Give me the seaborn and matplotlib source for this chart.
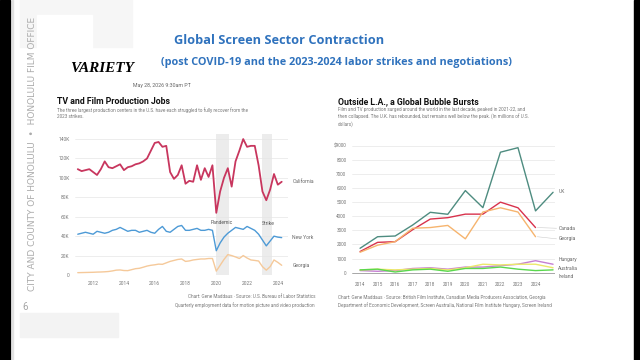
# =========================================
# GLOBAL SCREEN SECTOR CONTRACTION - SLIDE
# =========================================

import numpy as np
import pandas as pd

import matplotlib
matplotlib.use("Agg")
import matplotlib.pyplot as plt
import seaborn as sns
from matplotlib.patches import Rectangle


# =========================================
# DATA - LEFT CHART (jobs, thousands)
# =========================================

quarters = pd.period_range("2011Q1", "2024Q2", freq="Q")

california = [
    109, 107, 108, 109, 106, 103, 109, 117, 111, 110,
    112, 114, 108, 111, 112, 114, 115, 117, 120, 128,
    136, 137, 132, 133, 106, 99, 103, 113, 94, 97,
    96, 113, 98, 110, 101, 113, 64, 86, 100, 110,
    91, 117, 128, 140, 132, 133, 133, 113, 86, 77,
    88, 104, 93, 96
]

new_york = [
    42, 43, 44, 43, 42, 45, 44, 43, 44, 46,
    47, 49, 47, 45, 46, 46, 44, 45, 46, 44,
    43, 47, 50, 45, 44, 47, 50, 51, 46, 46,
    47, 48, 46, 46, 47, 46, 25, 33, 39, 43,
    46, 49, 48, 47, 50, 48, 46, 42, 36, 30,
    35, 40, 39, 38.5
]

georgia_jobs = [
    2.4, 2.5, 2.6, 2.7, 2.8, 3.0, 3.1, 3.3, 3.6, 4.2,
    5.0, 5.2, 4.6, 4.5, 5.5, 6.5, 6.9, 8.0, 9.2, 10.0,
    10.5, 11.2, 11.0, 12.5, 14.0, 15.0, 16.0, 16.5, 14.0, 14.5,
    15.5, 16.0, 16.5, 16.5, 17.0, 17.0, 4.0, 10.0, 16.0, 21.0,
    20.0, 18.6, 17.0, 20.0, 17.5, 15.5, 15.0, 14.4, 8.6, 5.0,
    8.6, 15.5, 13.0, 10.0
]

jobs_ticks = [2012, 2014, 2016, 2018, 2020, 2022, 2024]
jobs_yticks = [0, 20, 40, 60, 80, 100, 120, 140]
jobs_ylabels = ["0", "20K", "40K", "60K", "80K", "100K", "120K", "140K"]

events = ["Pandemic", "Strike"]
event_spans = [(2020.0, 2020.8), (2022.95, 2023.65)]


# =========================================
# DATA - RIGHT CHART (USD millions)
# =========================================

years_long = list(range(2014, 2026))
years_short = list(range(2014, 2025))

uk = [1730, 2550, 2600, 3380, 4280, 4140, 5820, 4610, 8540, 8860, 4380, 5700]
canada = [1500, 2150, 2200, 3050, 3800, 3900, 4150, 4150, 5000, 4600, 3200]
georgia_spend = [1450, 1950, 2200, 3150, 3200, 3350, 2400, 4300, 4600, 4300, 2550]
hungary = [150, 100, 150, 300, 350, 250, 400, 400, 500, 600, 850, 600]
australia = [200, 250, 200, 250, 300, 200, 350, 600, 550, 600, 600, 350]
ireland = [200, 250, 50, 200, 250, 100, 300, 300, 400, 250, 150, 200]

spend_ticks = list(range(2014, 2025))
spend_yticks = [0, 1000, 2000, 3000, 4000, 5000, 6000, 7000, 8000, 9000]
spend_ylabels = ["0", "1000", "2000", "3000", "4000", "5000",
                 "6000", "7000", "8000", "$9000"]


# =========================================
# LONG FORM TABLES
# =========================================

t = quarters.year + (quarters.quarter - 1) / 4

jobs_df = pd.concat([
    pd.DataFrame({"t": t, "jobs": california, "state": "California"}),
    pd.DataFrame({"t": t, "jobs": new_york, "state": "New York"}),
    pd.DataFrame({"t": t, "jobs": georgia_jobs, "state": "Georgia"}),
])

spend_df = pd.concat([
    pd.DataFrame({"year": years_long, "usd": uk, "place": "UK"}),
    pd.DataFrame({"year": years_short, "usd": canada, "place": "Canada"}),
    pd.DataFrame({"year": years_short, "usd": georgia_spend, "place": "Georgia"}),
    pd.DataFrame({"year": years_long, "usd": hungary, "place": "Hungary"}),
    pd.DataFrame({"year": years_long, "usd": australia, "place": "Australia"}),
    pd.DataFrame({"year": years_long, "usd": ireland, "place": "Ireland"}),
])

jobs_colors = {
    "California": "#c8365e",
    "New York": "#4d9ad6",
    "Georgia": "#f5c99a",
}

spend_colors = {
    "UK": "#4e8c80",
    "Canada": "#d8324c",
    "Georgia": "#f6b46e",
    "Hungary": "#c57fd2",
    "Australia": "#ece86a",
    "Ireland": "#5ad84e",
}


# =========================================
# FIGURE / SLIDE FRAME
# =========================================

sns.set_style("white")
plt.rcParams["font.family"] = ["Roboto", "DejaVu Sans"]

fig = plt.figure(figsize=(6.4, 3.6), dpi=100)
fig.patch.set_facecolor("white")


def fx(x):
    return x / 640


def fy(y):
    return 1 - y / 360


# black edges of the screenshot
fig.patches.append(Rectangle((0, 0), fx(10), 1, transform=fig.transFigure,
                             color="black", zorder=0))
fig.patches.append(Rectangle((fx(634), 0), fx(6), 1, transform=fig.transFigure,
                             color="black", zorder=0))
fig.patches.append(Rectangle((fx(12), 0), fx(1), 1, transform=fig.transFigure,
                             color="#e2e2e2", zorder=0))

# faint grey blocks behind the logo
fig.patches.append(Rectangle((fx(20), fy(47)), fx(112), 47 / 360,
                             transform=fig.transFigure, color="#f6f6f6", zorder=0))
fig.patches.append(Rectangle((fx(37), fy(60)), fx(55), 45 / 360,
                             transform=fig.transFigure, color="white", zorder=0))
fig.patches.append(Rectangle((fx(20), fy(337)), fx(98), 24 / 360,
                             transform=fig.transFigure, color="#f3f3f3", zorder=0))

fig.text(fx(33), fy(154), "CITY AND COUNTY OF HONOLULU  \u2022  HONOLULU FILM OFFICE",
         rotation=90, ha="center", va="center", fontsize=6.5,
         color="#ababab", family=["DejaVu Sans"])
fig.text(fx(25), fy(307), "6", ha="center", va="center", fontsize=7,
         color="#a5a5a5")


# =========================================
# TITLES
# =========================================

fig.text(fx(279), fy(40), "Global Screen Sector Contraction",
         ha="center", va="center", fontsize=9.2, fontweight="bold",
         color="#2f72bd", family=["Open Sans", "DejaVu Sans"])
fig.text(fx(336), fy(63),
         "(post COVID-19 and the 2023-2024 labor strikes and negotiations)",
         ha="center", va="center", fontsize=7.8, fontweight="bold",
         color="#2f72bd", family=["Open Sans", "DejaVu Sans"])

fig.text(fx(102), fy(69), "VARIETY", ha="center", va="center",
         fontsize=11, fontweight="bold", style="italic",
         family=["Liberation Serif", "DejaVu Serif"], color="black")

fig.text(fx(133), fy(86), "May 28, 2026 9:30am PT", ha="left", va="center",
         fontsize=3.8, color="#666666")

fig.text(fx(57), fy(101), "TV and Film Production Jobs", ha="left",
         va="center", fontsize=6.3, fontweight="bold", color="#111111")
fig.text(fx(57), fy(113),
         "The three largest production centers in the U.S. have each struggled to fully recover from the\n2023 strikes.",
         ha="left", va="center", fontsize=3.3, color="#777777", linespacing=1.3)

fig.text(fx(338), fy(102), "Outside L.A., a Global Bubble Bursts", ha="left",
         va="center", fontsize=6.3, fontweight="bold", color="#111111")
fig.text(fx(338), fy(117),
         "Film and TV production surged around the world in the last decade, peaked in 2021-22, and\n"
         "then collapsed. The U.K. has rebounded, but remains well below the peak. (In millions of U.S.\n"
         "dollars)",
         ha="left", va="center", fontsize=3.3, color="#777777", linespacing=1.3)


# =========================================
# LEFT CHART - JOBS
# =========================================

ax1 = fig.add_axes([fx(75), fy(275), (288 - 75) / 640, 140.8 / 360])

for (a, b) in event_spans:
    ax1.axvspan(a, b, color="#ececec", lw=0, zorder=0)

for yv in jobs_yticks[1:]:
    ax1.axhline(yv, color="#e6e6e6", lw=0.5, zorder=0.5)
ax1.axhline(0, color="#999999", lw=0.6, zorder=0.5)

sns.lineplot(
    data=jobs_df, x="t", y="jobs", hue="state",
    palette=jobs_colors, legend=False, ax=ax1, lw=1.0
)
ax1.lines[-3].set_linewidth(1.3)

ax1.set_xlim(2010.82, 2024.66)
ax1.set_ylim(0, 145)
ax1.set_xticks(jobs_ticks)
ax1.set_xticklabels([str(v) for v in jobs_ticks])
ax1.set_yticks(jobs_yticks)
ax1.set_yticklabels(jobs_ylabels)
ax1.tick_params(labelsize=3.5, colors="#777777", length=0, pad=4)
ax1.set_xlabel("")
ax1.set_ylabel("")
sns.despine(ax=ax1, left=True, bottom=True)

for name, vals in [("California", california), ("New York", new_york),
                   ("Georgia", georgia_jobs)]:
    ax1.text(2024.95, vals[-1], name, fontsize=3.6, color="#666666",
             va="center", ha="left", clip_on=False)

ax1.text(2020.35, 54.0, events[0], fontsize=3.6, color="#555555",
         ha="center", va="center")
ax1.text(2023.4, 53.0, events[1], fontsize=3.6, color="#555555",
         ha="center", va="center")

fig.text(fx(315), fy(297),
         "Chart: Gene Maddaus \u00b7 Source: U.S. Bureau of Labor Statistics",
         ha="right", va="center", fontsize=3.3, color="#777777")
fig.text(fx(315), fy(305),
         "Quarterly employment data for motion picture and video production",
         ha="right", va="center", fontsize=3.3, color="#777777")


# =========================================
# RIGHT CHART - SPENDING
# =========================================

ax2 = fig.add_axes([fx(352), fy(276), (555 - 352) / 640, 133 / 360])

for yv in spend_yticks[1:]:
    ax2.axhline(yv, color="#e6e6e6", lw=0.5, zorder=0.5)
ax2.axhline(0, color="#999999", lw=0.6, zorder=0.5)

sns.lineplot(
    data=spend_df, x="year", y="usd", hue="place",
    palette=spend_colors, legend=False, ax=ax2, lw=1.0
)

ax2.set_xlim(2013.54, 2025.11)
ax2.set_ylim(-234, 9192)
ax2.set_xticks(spend_ticks)
ax2.set_xticklabels([str(v) for v in spend_ticks])
ax2.set_yticks(spend_yticks)
ax2.set_yticklabels(spend_ylabels)
ax2.tick_params(labelsize=3.3, colors="#777777", length=0, pad=4)
ax2.set_xlabel("")
ax2.set_ylabel("")
sns.despine(ax=ax2, left=True, bottom=True)

label_y = {
    "UK": 5750, "Canada": 3150, "Georgia": 2400,
    "Hungary": 950, "Australia": 310, "Ireland": -280,
}
for name, yv in label_y.items():
    ax2.text(2025.3, yv, name, fontsize=3.6, color="#666666",
             va="center", ha="left", clip_on=False)

ax2.plot([2024.1, 2025.2], [canada[-1], label_y["Canada"]],
         color="#cccccc", lw=0.4, clip_on=False)
ax2.plot([2024.1, 2025.2], [georgia_spend[-1], label_y["Georgia"]],
         color="#cccccc", lw=0.4, clip_on=False)

fig.text(fx(338), fy(297),
         "Chart: Gene Maddaus \u00b7 Source: British Film Institute, Canadian Media Producers Association, Georgia",
         ha="left", va="center", fontsize=3.3, color="#777777")
fig.text(fx(338), fy(305),
         "Department of Economic Development, Screen Australia, National Film Institute Hungary, Screen Ireland",
         ha="left", va="center", fontsize=3.3, color="#777777")


# =========================================
# EXPORT
# =========================================

fig.savefig("out.png", dpi=100)
plt.close(fig)
